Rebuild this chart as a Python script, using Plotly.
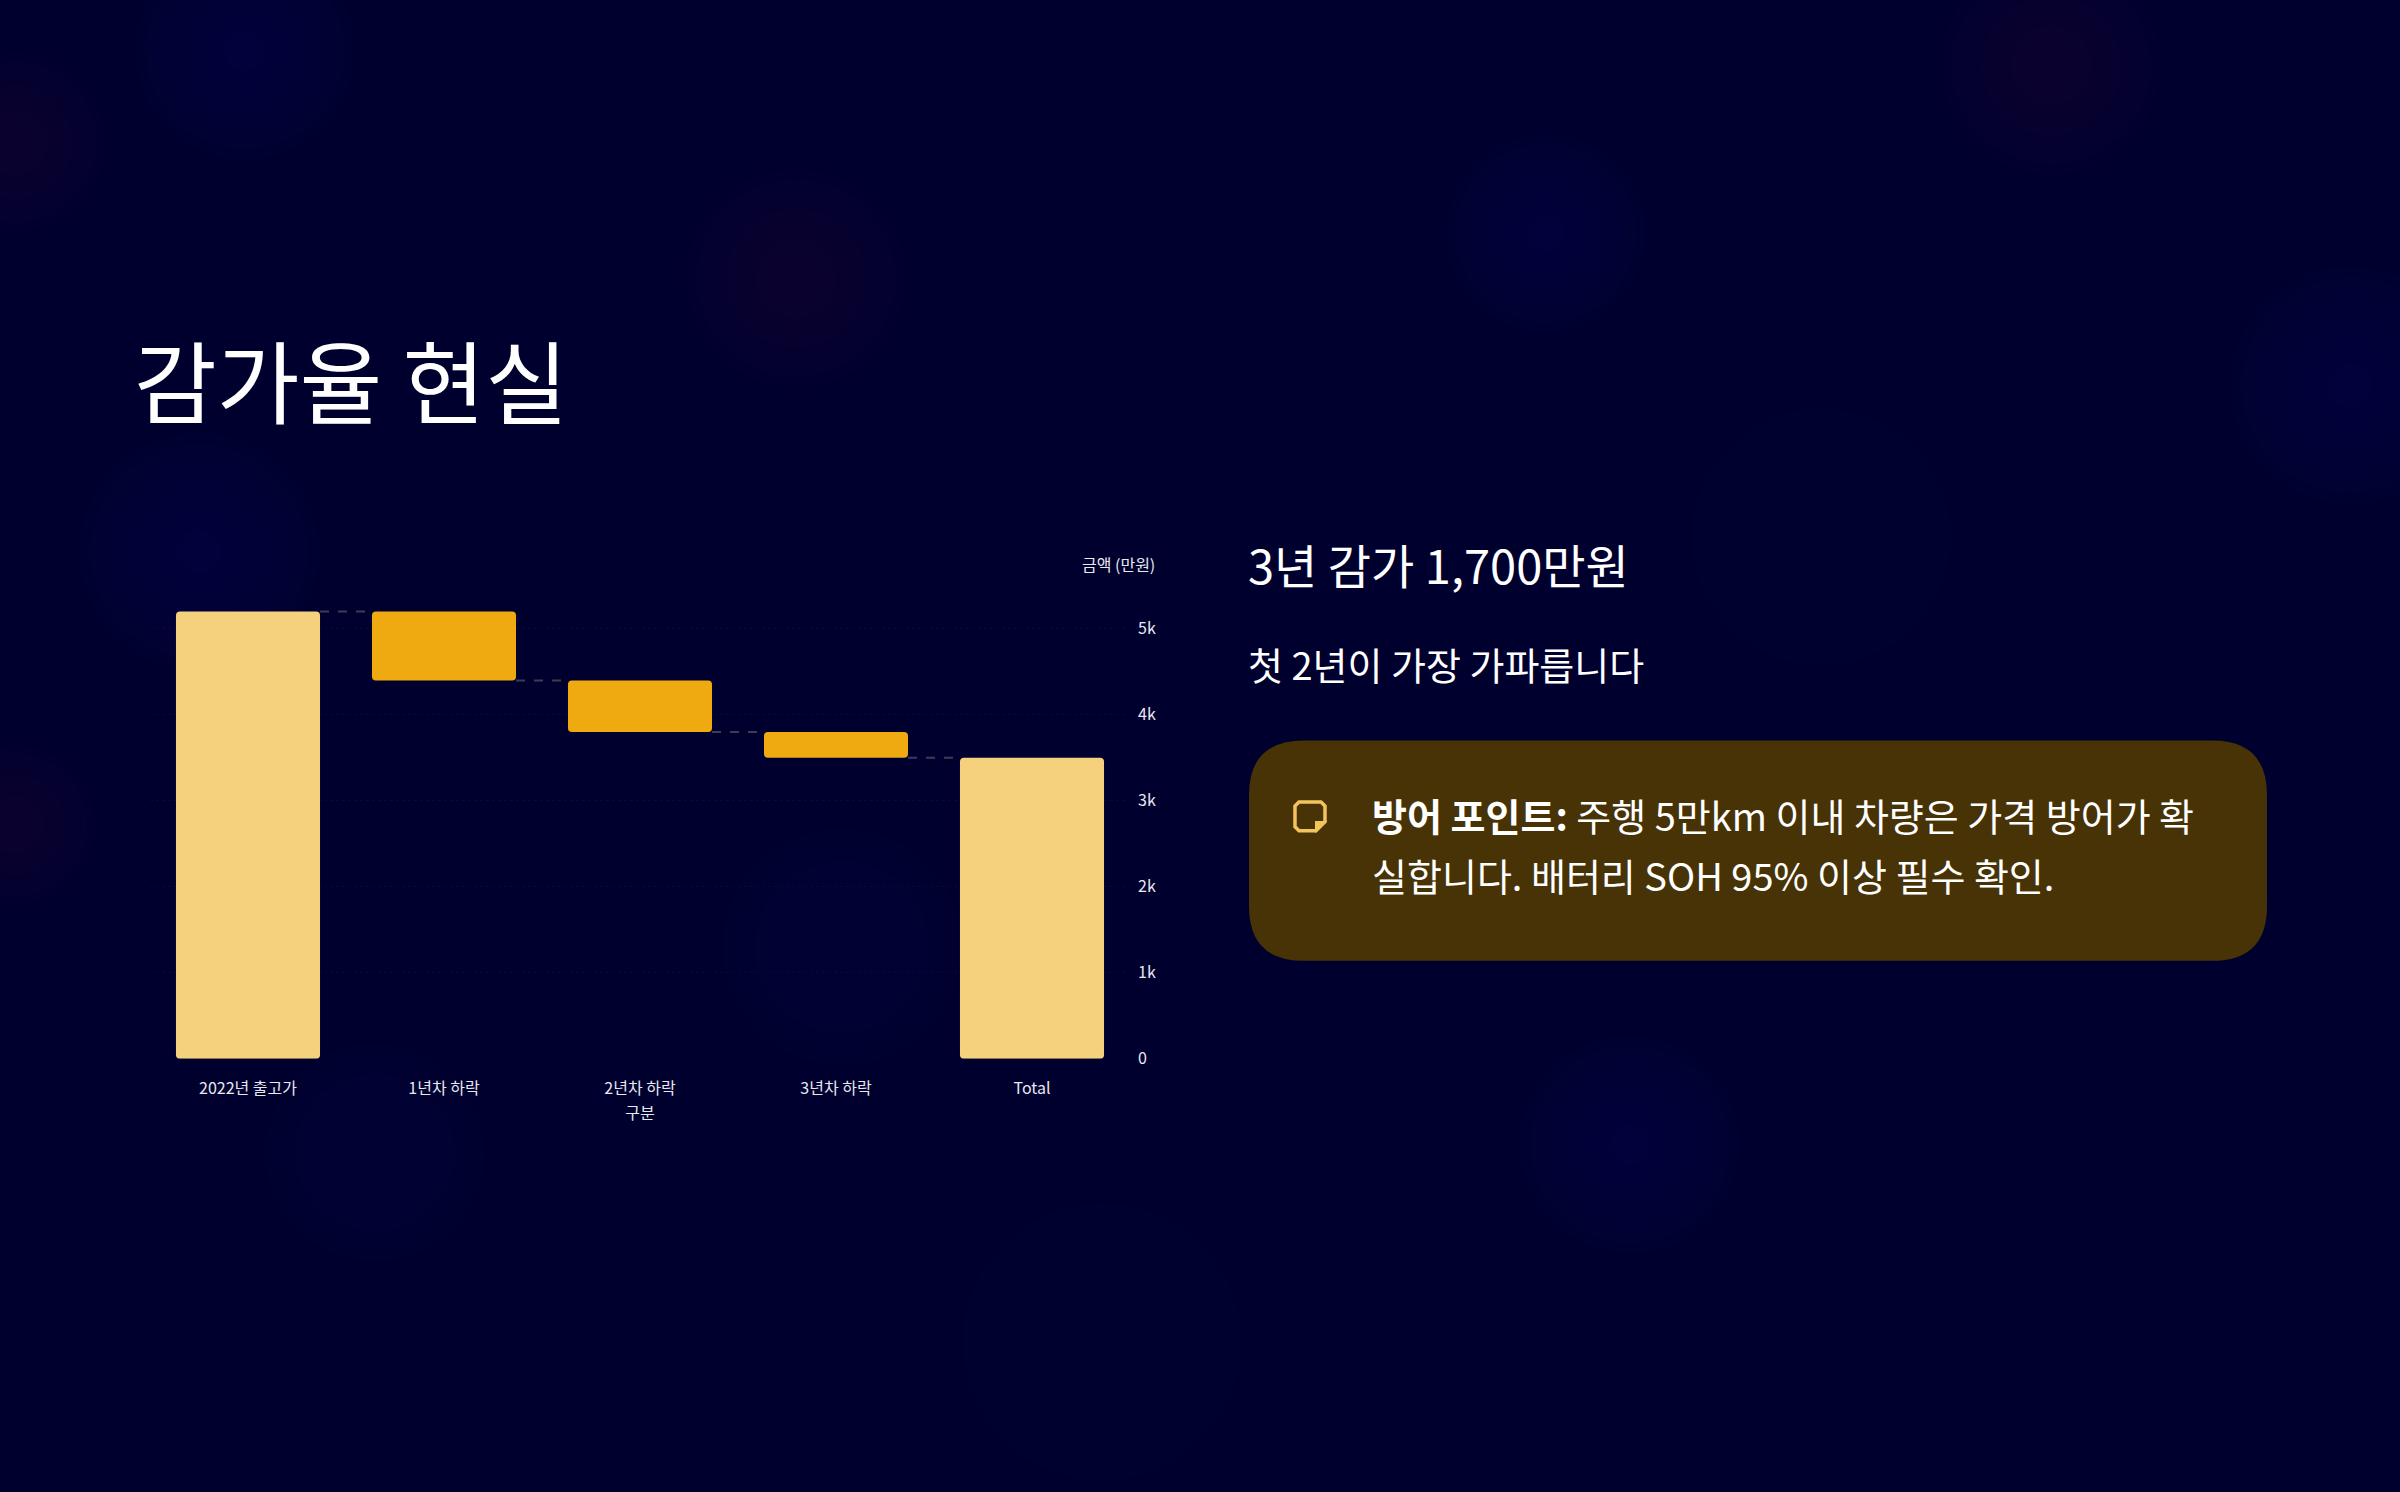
import plotly.graph_objects as go

# data (만원)
categories = ["2022년 출고가", "1년차 하락", "2년차 하락", "3년차 하락", "Total"]
start_price = 5200
yearly_drops = [-800, -600, -300]
y_ticks = [0, 1000, 2000, 3000, 4000, 5000]
y_tick_labels = ["0", "1k", "2k", "3k", "4k", "5k"]

W, H = 2400, 1492
OY = 5  # small vertical nudge of the whole layout
FONT = "Noto Sans CJK KR"
BG = "#00002e"
LIGHT = "#f5d07d"
DARK = "#efaa12"


def px(x, y):
    return x / W, 1 - (y + OY) / H


# waterfall built from bars so the corners can be rounded
values = [start_price] + yearly_drops
total = sum(values)
bases, heights, colors, levels = [], [], [], []
running = 0
for i, v in enumerate(values):
    bases.append(0 if i == 0 else running)
    heights.append(v)
    colors.append(LIGHT if i == 0 else DARK)
    running += v
    levels.append(running)
bases.append(0)
heights.append(total)
colors.append(LIGHT)

bar_w = 0.735
xs = list(range(len(categories)))

fig = go.Figure()
fig.add_trace(go.Bar(
    x=xs, y=heights, base=bases, width=bar_w,
    marker=dict(color=colors, cornerradius=4, line=dict(width=0)),
    hoverinfo="skip", showlegend=False,
))

# dashed connectors between bars
for i, lv in enumerate(levels):
    fig.add_trace(go.Scatter(
        x=[xs[i] + bar_w / 2, xs[i + 1] - bar_w / 2], y=[lv, lv],
        mode="lines", line=dict(color="#3c3c52", width=2, dash="dash"),
        hoverinfo="skip", showlegend=False,
    ))

# soft blurred background glows
glows = [
    (245, 46, 110, (40, 60, 140)),
    (15, 138, 90, (90, 30, 60)),
    (796, 275, 110, (80, 35, 70)),
    (1546, 230, 100, (35, 55, 130)),
    (2350, 383, 120, (40, 65, 150)),
    (2051, 61, 110, (90, 40, 70)),
    (199, 551, 120, (35, 60, 130)),
    (1821, 536, 130, (75, 35, 75)),
    (375, 1156, 110, (70, 30, 80)),
    (842, 949, 120, (35, 50, 120)),
    (1630, 1148, 110, (35, 55, 130)),
    (1102, 1347, 140, (75, 30, 70)),
    (15, 826, 80, (90, 35, 70)),
]
shapes = []
for gx, gy, r, (cr, cg, cb) in glows:
    for k in range(10):
        rr = r * (1 - k * 0.09)
        x0, y0 = px(gx - rr, gy - rr)
        x1, y1 = px(gx + rr, gy + rr)
        shapes.append(dict(
            type="circle", xref="paper", yref="paper",
            x0=x0, x1=x1, y0=y1, y1=y0, layer="below",
            fillcolor=f"rgba({cr},{cg},{cb},0.02)", line=dict(width=0),
        ))

# callout box with rounded corners
bx0, by0, bx1, by1, rad = 1249, 741, 2267, 963, 55
pts = [
    ("M", bx0 + rad, by0), ("L", bx1 - rad, by0), ("Q", bx1, by0, bx1, by0 + rad),
    ("L", bx1, by1 - rad), ("Q", bx1, by1, bx1 - rad, by1), ("L", bx0 + rad, by1),
    ("Q", bx0, by1, bx0, by1 - rad), ("L", bx0, by0 + rad), ("Q", bx0, by0, bx0 + rad, by0),
]
path = ""
for p in pts:
    cmd, coords = p[0], p[1:]
    seg = []
    for j in range(0, len(coords), 2):
        a, b = px(coords[j], coords[j + 1])
        seg.append(f"{a:.5f},{b:.5f}")
    path += cmd + " ".join(seg) + " "
shapes.append(dict(type="path", xref="paper", yref="paper", path=path + "Z",
                   fillcolor="#483306", line=dict(width=0), layer="below"))

# note icon
ix0, iy0, ix1, iy1, fold = 1295, 803, 1325, 832, 9
icon_pts = [(ix0 + 4, iy0), (ix1 - 4, iy0), (ix1, iy0 + 4), (ix1, iy1 - fold),
            (ix1 - fold, iy1), (ix0 + 4, iy1), (ix0, iy1 - 4), (ix0, iy0 + 4)]
ip = "M" + " L".join(f"{px(a, b)[0]:.5f},{px(a, b)[1]:.5f}" for a, b in icon_pts) + " Z"
shapes.append(dict(type="path", xref="paper", yref="paper", path=ip,
                   line=dict(color="#f3c35c", width=3.5)))
fp = [(ix1, iy1 - fold), (ix1 - fold, iy1 - fold), (ix1 - fold, iy1)]
shapes.append(dict(type="path", xref="paper", yref="paper",
                   path="M" + " L".join(f"{px(a, b)[0]:.5f},{px(a, b)[1]:.5f}" for a, b in fp) + " Z",
                   fillcolor="#f3c35c", line=dict(color="#f3c35c", width=2)))


def note(text, x, y, size, color="#ffffff", xanchor="left"):
    ax, ay = px(x, y)
    return dict(text=text, x=ax, y=ay, xref="paper", yref="paper", showarrow=False,
                xanchor=xanchor, yanchor="middle", align=xanchor,
                font=dict(family=FONT, size=size, color=color))


annotations = [
    note("감가율 현실", 132, 376, 90),
    note("3년 감가 1,700만원", 1246, 563, 47),
    note("첫 2년이 가장 가파릅니다", 1246, 663, 38),
    note("<b>방어 포인트:</b> 주행 5만km 이내 차량은 가격 방어가 확", 1370, 816, 38),
    note("실합니다. 배터리 SOH 95% 이상 필수 확인.", 1370, 876, 38),
    note("금액 (만원)", 1157, 563, 16, "#e8e8f0", "right"),
]

fig.update_layout(
    width=W, height=H,
    paper_bgcolor=BG, plot_bgcolor="rgba(0,0,0,0)",
    margin=dict(l=0, r=0, t=0, b=0),
    font=dict(family=FONT, color="#e8e8f0", size=16),
    shapes=shapes, annotations=annotations,
    xaxis=dict(
        domain=[150 / W, 1130 / W], range=[-0.5, 4.5],
        tickvals=xs, ticktext=categories, showgrid=False, zeroline=False,
        showline=False, ticks="", ticklabelstandoff=18,
        tickfont=dict(size=16, color="#e8e8f0"),
        title=dict(text="구분", font=dict(size=16, color="#e8e8f0"), standoff=9),
    ),
    yaxis=dict(
        domain=[px(0, 1061.7)[1], px(0, 583)[1]], range=[0, 5525], side="right",
        tickvals=y_ticks, ticktext=y_tick_labels, showgrid=True,
        gridcolor="rgba(255,255,255,0.03)", griddash="dot", zeroline=False,
        showline=False, ticks="", ticklabelstandoff=7,
        tickfont=dict(size=16, color="#e8e8f0"),
    ),
)

fig.write_html("out.html", config={"displayModeBar": False},
               post_script="document.body.style.margin='0';")
